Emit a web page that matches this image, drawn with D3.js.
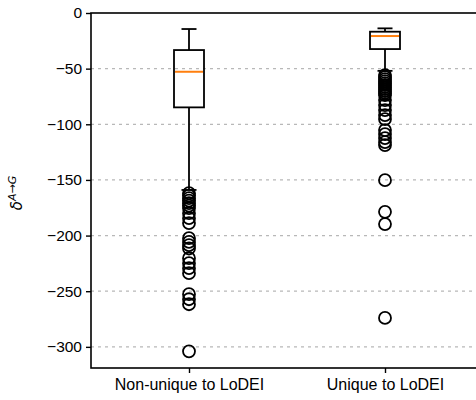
<!DOCTYPE html>
<html>
<head>
<meta charset="utf-8">
<script src="https://cdn.jsdelivr.net/npm/d3@7"></script>
<style>
  body { margin: 0; background: #fff; }
  svg { display: block; font-family: "Liberation Sans", Arial, sans-serif; }
</style>
</head>
<body>
<div id="chart"></div>
<script>
// box statistics
var categories = ["Non-unique to LoDEI", "Unique to LoDEI"];
var whiskerHigh = [-14.4, -13.8];
var q3 = [-33.3, -16.8];
var medians = [-52.8, -20.7];
var q1 = [-84.8, -32.4];
var whiskerLow = [-159, -52];

var outliersNonUnique = [-161.9, -164.1, -166.4, -168.6, -170.9, -173.1, -175.4, -179.9, -184.4, -188.8,
  -202.3, -205.7, -208.6, -211.6, -220.3, -224.8, -229.3, -233.8, -252.7, -257.2, -261.7, -304];
var outliersUnique = [-55.8, -57.6, -59.4, -61.2, -63, -64.7, -66.5, -68.3, -70.1, -71.9, -73.7,
  -78.2, -82.7, -87.2, -91.7, -95.3, -105.2, -108.8, -112.4, -116, -118.7, -150.2, -178.7, -189.7, -274];

var yTicks = [0, -50, -100, -150, -200, -250, -300];

var W = 476, H = 400;
var margin = { top: 13, left: 91, bottom: 32 };
var plotBottom = H - margin.bottom;

var svg = d3.select("#chart").append("svg")
    .attr("width", W)
    .attr("height", H);

var x = d3.scaleLinear().domain([0.5, 2.5]).range([margin.left, margin.left + 392]);
var y = d3.scaleLinear().domain([-319, 0]).range([plotBottom, margin.top]);

var boxW = 30, capW = 15, lw = 1.8;

// grid
svg.append("g").selectAll("line")
    .data(yTicks.filter(function (d) { return d !== 0; }))
    .enter().append("line")
    .attr("x1", margin.left).attr("x2", W)
    .attr("y1", function (d) { return y(d); })
    .attr("y2", function (d) { return y(d); })
    .attr("stroke", "#b8b8b8")
    .attr("stroke-width", 1.2)
    .attr("stroke-dasharray", "3,4");

// axes
var yAxis = d3.axisLeft(y)
    .tickValues(yTicks)
    .tickSize(5)
    .tickPadding(4)
    .tickFormat(function (d) { return d < 0 ? "\u2212" + Math.abs(d) : d; });
var gy = svg.append("g")
    .attr("transform", "translate(" + margin.left + ",0)")
    .call(yAxis);
gy.select(".domain").remove();
gy.selectAll("line").attr("stroke", "#000").attr("stroke-width", 1.4);
gy.selectAll("text").attr("font-size", 15.5).attr("fill", "#000")
    .attr("font-family", "Liberation Sans, Arial, sans-serif");

var xAxis = d3.axisBottom(x)
    .tickValues([1, 2])
    .tickSize(5)
    .tickPadding(6)
    .tickFormat(function (d) { return categories[d - 1]; });
var gx = svg.append("g")
    .attr("transform", "translate(0," + plotBottom + ")")
    .call(xAxis);
gx.select(".domain").remove();
gx.selectAll("line").attr("stroke", "#000").attr("stroke-width", 1.4);
gx.selectAll("text").attr("font-size", 16).attr("fill", "#000")
    .attr("font-family", "Liberation Sans, Arial, sans-serif");

// frame
svg.append("rect")
    .attr("x", margin.left)
    .attr("y", margin.top)
    .attr("width", 392)
    .attr("height", plotBottom - margin.top)
    .attr("fill", "none")
    .attr("stroke", "#000")
    .attr("stroke-width", 1.6);

// y label
var ylab = svg.append("text")
    .attr("transform", "translate(22,193) rotate(-90)")
    .attr("text-anchor", "middle")
    .attr("font-family", "DejaVu Sans, sans-serif")
    .attr("fill", "#000");
ylab.append("tspan").attr("font-size", 15).attr("font-style", "italic").text("\u03b4");
ylab.append("tspan").attr("font-size", 11).attr("font-style", "italic").attr("dy", -6).text("A\u2192G");

// boxes
var boxes = svg.append("g").selectAll("g")
    .data(categories)
    .enter().append("g");

boxes.append("line")
    .attr("x1", function (d, i) { return x(i + 1); })
    .attr("x2", function (d, i) { return x(i + 1); })
    .attr("y1", function (d, i) { return y(whiskerHigh[i]); })
    .attr("y2", function (d, i) { return y(q3[i]); })
    .attr("stroke", "#000").attr("stroke-width", lw);
boxes.append("line")
    .attr("x1", function (d, i) { return x(i + 1); })
    .attr("x2", function (d, i) { return x(i + 1); })
    .attr("y1", function (d, i) { return y(q1[i]); })
    .attr("y2", function (d, i) { return y(whiskerLow[i]); })
    .attr("stroke", "#000").attr("stroke-width", lw);
[whiskerHigh, whiskerLow].forEach(function (arr) {
    boxes.append("line")
        .attr("x1", function (d, i) { return x(i + 1) - capW / 2; })
        .attr("x2", function (d, i) { return x(i + 1) + capW / 2; })
        .attr("y1", function (d, i) { return y(arr[i]); })
        .attr("y2", function (d, i) { return y(arr[i]); })
        .attr("stroke", "#000").attr("stroke-width", lw);
});
boxes.append("rect")
    .attr("x", function (d, i) { return x(i + 1) - boxW / 2; })
    .attr("width", boxW)
    .attr("y", function (d, i) { return y(q3[i]); })
    .attr("height", function (d, i) { return y(q1[i]) - y(q3[i]); })
    .attr("fill", "none")
    .attr("stroke", "#000").attr("stroke-width", lw);
boxes.append("line")
    .attr("x1", function (d, i) { return x(i + 1) - boxW / 2 + 1; })
    .attr("x2", function (d, i) { return x(i + 1) + boxW / 2 - 1; })
    .attr("y1", function (d, i) { return y(medians[i]); })
    .attr("y2", function (d, i) { return y(medians[i]); })
    .attr("stroke", "#ff7f0e").attr("stroke-width", 2);

// fliers
[outliersNonUnique, outliersUnique].forEach(function (arr, i) {
    svg.append("g").selectAll("circle")
        .data(arr)
        .enter().append("circle")
        .attr("cx", x(i + 1))
        .attr("cy", function (d) { return y(d); })
        .attr("r", 6)
        .attr("fill", "none")
        .attr("stroke", "#000")
        .attr("stroke-width", lw);
});
</script>
</body>
</html>
